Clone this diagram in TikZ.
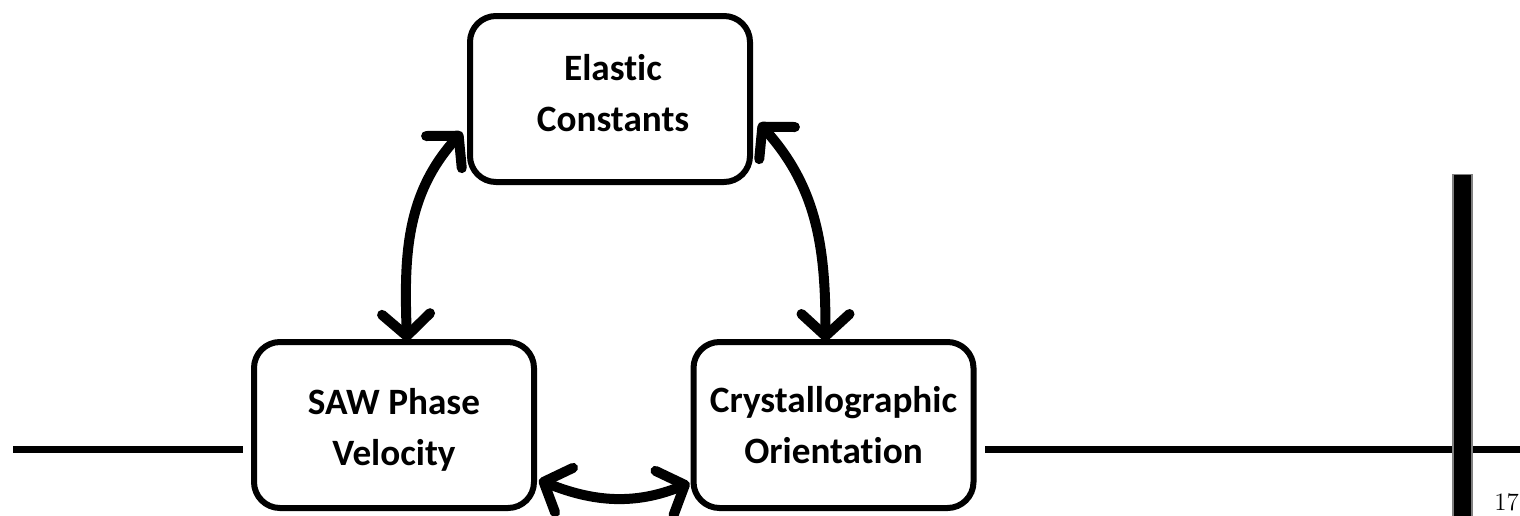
\documentclass[tikz,border=0pt]{standalone}
\usepackage{fontspec}
\setsansfont{Carlito}[Ligatures=NoCommon]
\usetikzlibrary{arrows.meta,calc}
\tikzset{
  box/.style={draw, line width=3pt, rounded corners=13pt, fill=white,
    minimum width=140pt, minimum height=83pt},
  boxtext/.style={align=center, inner sep=0pt,
    font=\sffamily\bfseries\fontsize{18.6}{25.5}\selectfont},
  link/.style={line width=5pt, {Straight Barb[length=11pt,width=24pt,round]}-{Straight Barb[length=11pt,width=24pt,round]}},
  rail/.style={line width=3.5pt}
}
\begin{document}
\begin{tikzpicture}[x=0.5pt,y=-0.5pt]
\useasboundingbox (0,0) rectangle (1520,515);
% rails
\coordinate (lr1) at (13,449);
\coordinate (lr2) at (243,449);
\coordinate (rr1) at (985,449);
\coordinate (rr2) at (1525,449);
\draw[rail] (lr1) -- (lr2);
\draw[rail] (rr1) -- (rr2);
\node[draw=gray, line width=0.6pt, fill=black, minimum width=9.5pt, minimum height=172pt, inner sep=0pt, anchor=north] (bar) at (1462.5,174) {};
\node[anchor=north west, inner sep=0pt, font=\fontsize{12.5}{12.5}\selectfont] (pg) at (1494,493) {17};
% boxes
\node[box] (top) at (610,99) {};
\node[box] (saw) at (394,425) {};
\node[box] (cry) at (833.5,425) {};
\node[boxtext] (toptxt) at ($(top.center)+(3,-6)$) {Elastic\\Constants};
\node[boxtext] (sawtxt) at ($(saw.center)+(0,5)$) {SAW Phase\\Velocity};
\node[boxtext] (crytxt) at ($(cry.center)+(0,0)$) {Crystallographic\\Orientation};
% connectors
\draw[link] ($(saw.north)+(13,2)$) to[out=92,in=228] ($(top.west)+(-5,33)$);
\draw[link] ($(top.east)+(6,24)$) to[out=-48,in=90] ($(cry.north)+(-8,2)$);
\draw[link] ($(saw.east)+(2,55)$) to[out=-22,in=202] ($(cry.west)+(-1,58)$);
\end{tikzpicture}
\end{document}
